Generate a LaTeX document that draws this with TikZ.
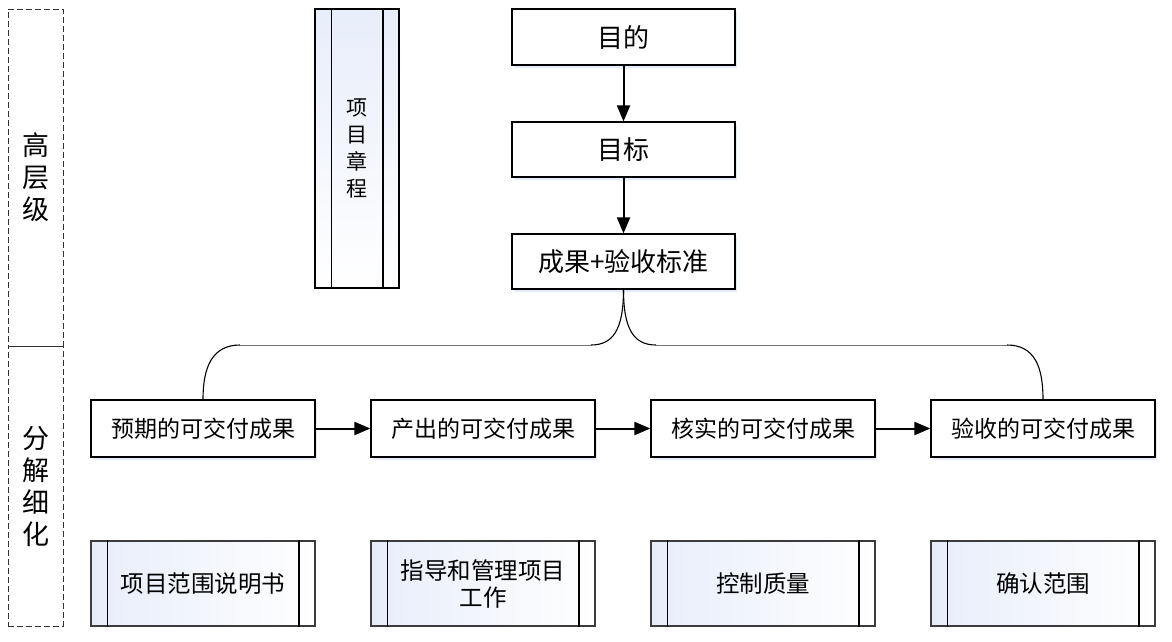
\documentclass[tikz,border=0pt]{standalone}
\usepackage{fontspec}
\setmainfont{Noto Sans CJK SC}
\usetikzlibrary{arrows.meta}
\usetikzlibrary{shadows}
\definecolor{paleblue}{RGB}{231,237,250}
\definecolor{shadowblue}{RGB}{226,234,248}
\definecolor{edgegray}{RGB}{60,60,60}
\tikzset{
  box/.style={draw=black, line width=1.2pt, fill=white, minimum width=223pt, minimum height=56pt, inner sep=0pt,
    font=\fontsize{23}{27}\selectfont, drop shadow={shadow xshift=1.5pt, shadow yshift=-3pt, fill=shadowblue, opacity=.9}},
  procbox/.style={draw=edgegray, line width=1.6pt, minimum width=224pt, minimum height=85pt, inner sep=0pt,
    left color=paleblue, right color=white, align=center, font=\fontsize{23.5}{27}\selectfont},
  layer/.style={draw=black!80, dash pattern=on 6pt off 3pt, line width=1pt, minimum width=55pt, inner sep=0pt,
    align=center, font=\fontsize{27}{32}\selectfont},
  flow/.style={line width=2pt, -{Triangle[length=16pt,width=13pt]}},
  curve/.style={line width=1.1pt, black},
}
\begin{document}
\begin{tikzpicture}[x=1pt,y=-1pt]
\useasboundingbox (0,0) rectangle (1172,641);
% layers on the left
\node[layer, minimum height=337pt] (high) at (35.5,177.5) {高\\层\\级};
\node[layer, minimum height=280pt] (detail) at (35.5,486) {分\\解\\细\\化};
% project charter
\node[procbox, top color=paleblue, bottom color=white, draw=black, minimum width=84pt, minimum height=279pt,
  font=\fontsize{21}{27}\selectfont] (charter) at (357,148.5) {项\\目\\章\\程};
% top chain
\node[box, font=\fontsize{26}{30}\selectfont] (aim) at (623.5,37) {目的};
\node[box, font=\fontsize{26}{30}\selectfont, minimum height=55pt] (goal) at (623.5,149.5) {目标};
\node[box, font=\fontsize{26}{30}\selectfont, minimum height=55pt] (res) at (623.5,261.5) {成果+验收标准};
\draw[flow] (aim) -- (goal);
\draw[flow] (goal) -- (res);
% deliverables row
\node[box, minimum width=224pt, minimum height=57pt] (expect) at (203,428.5) {预期的可交付成果};
\node[box, minimum width=224pt, minimum height=57pt] (output) at (483,428.5) {产出的可交付成果};
\node[box, minimum width=224pt, minimum height=57pt] (verify) at (763,428.5) {核实的可交付成果};
\node[box, minimum width=224pt, minimum height=57pt] (accept) at (1043,428.5) {验收的可交付成果};
\foreach \a/\b in {expect/output, output/verify, verify/accept}
  \draw[flow] (\a) -- (\b);
% brace
\coordinate (ljoin) at (591,345);
\coordinate (lturn) at (240,345);
\coordinate (rjoin) at (656,345);
\coordinate (rturn) at (1007,345);
\draw[curve] (res.south) .. controls +(0,40) and +(22,0) .. (ljoin);
\draw[curve] (res.south) .. controls +(0,40) and +(-22,0) .. (rjoin);
\draw[black!55, line width=.9pt] (ljoin) -- (lturn);
\draw[black!55, line width=.9pt] (rjoin) -- (rturn);
\draw[curve] (lturn) .. controls +(-28,0) and +(0,-32) .. (expect.north);
\draw[curve] (rturn) .. controls +(28,0) and +(0,-32) .. (accept.north);
% processes
\node[procbox] (scope) at (203,583.5) {项目范围说明书};
\node[procbox] (direct) at (483,583.5) {指导和管理项目\\工作};
\node[procbox] (quality) at (763,583.5) {控制质量};
\node[procbox] (validate) at (1043,583.5) {确认范围};
\foreach \n in {charter, scope, direct, quality, validate} {
  \draw[black, line width=1.4pt] ([xshift=17pt]\n.north west) -- ([xshift=17pt]\n.south west);
  \draw[black, line width=1.4pt] ([xshift=-17pt]\n.north east) -- ([xshift=-17pt]\n.south east);
}
\end{tikzpicture}
\end{document}
